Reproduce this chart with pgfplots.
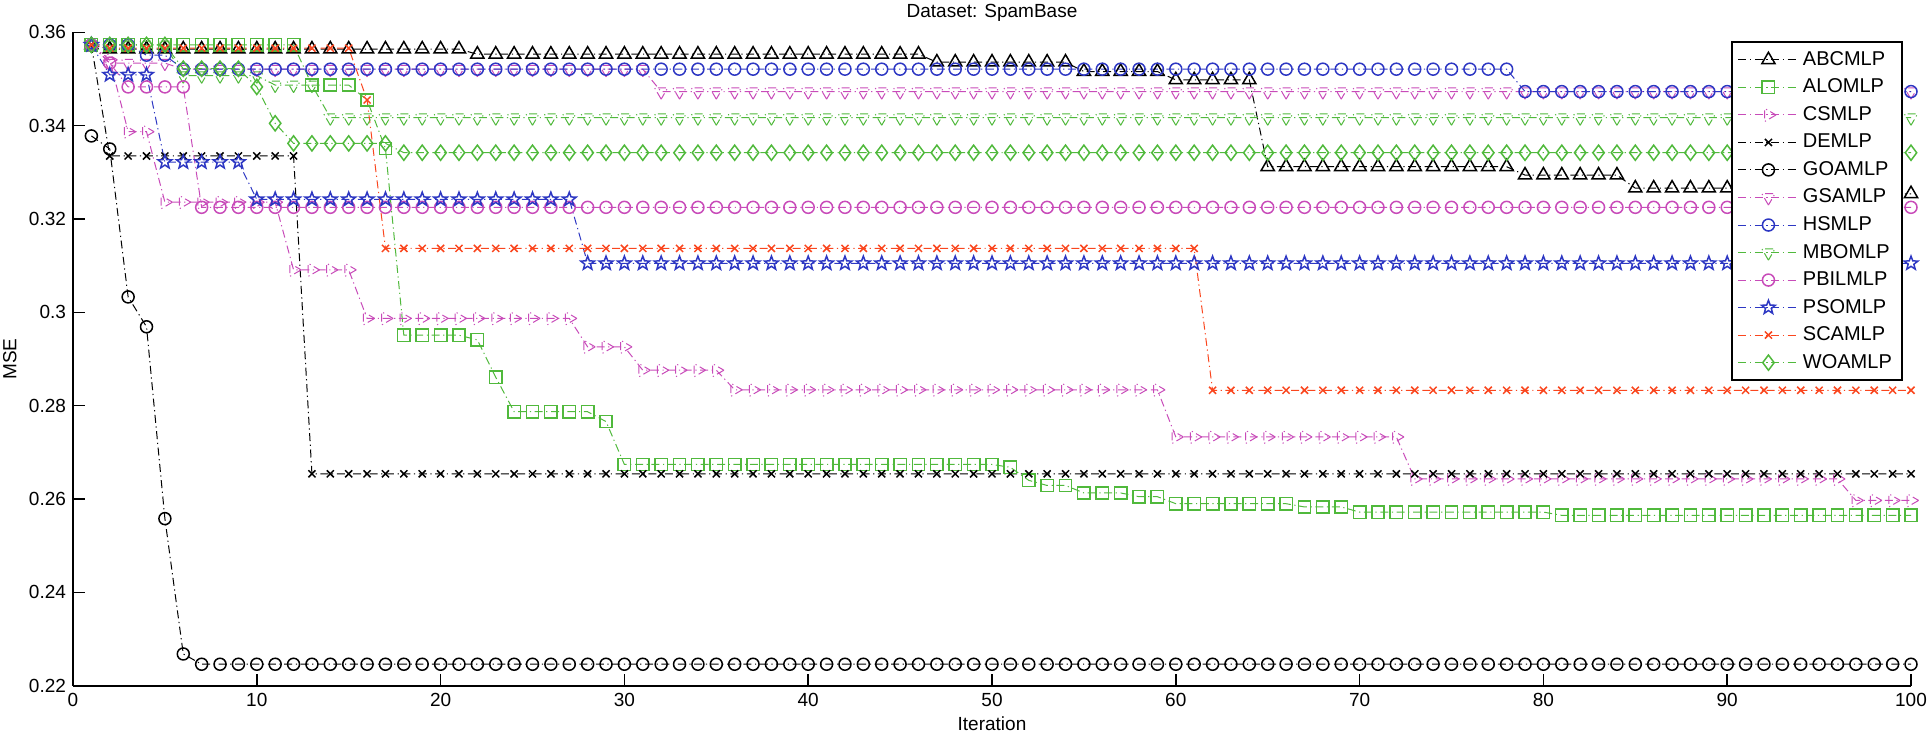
\documentclass[border=0pt]{standalone}
\usepackage{fontspec}
\setmainfont{Liberation Sans}
\usepackage{pgfplots}
\usepackage{pgfplotstable}
\pgfplotsset{compat=1.18}

\definecolor{cgreen}{RGB}{80,185,60}
\definecolor{cmag}{RGB}{200,75,185}
\definecolor{cblue}{RGB}{45,55,195}
\definecolor{cred}{RGB}{250,70,30}

% outline five-pointed star, as MATLAB's pentagram
\pgfdeclareplotmark{pentagram}{%
  \pgfpathmoveto{\pgfqpointpolar{90}{\pgfplotmarksize}}%
  \pgfpathlineto{\pgfqpointpolar{126}{0.42\pgfplotmarksize}}%
  \pgfpathlineto{\pgfqpointpolar{162}{\pgfplotmarksize}}%
  \pgfpathlineto{\pgfqpointpolar{198}{0.42\pgfplotmarksize}}%
  \pgfpathlineto{\pgfqpointpolar{234}{\pgfplotmarksize}}%
  \pgfpathlineto{\pgfqpointpolar{270}{0.42\pgfplotmarksize}}%
  \pgfpathlineto{\pgfqpointpolar{306}{\pgfplotmarksize}}%
  \pgfpathlineto{\pgfqpointpolar{342}{0.42\pgfplotmarksize}}%
  \pgfpathlineto{\pgfqpointpolar{18}{\pgfplotmarksize}}%
  \pgfpathlineto{\pgfqpointpolar{54}{0.42\pgfplotmarksize}}%
  \pgfpathclose\pgfusepathqstroke}

% it abc alo cs de goa gsa hs mbo pbil pso sca woa
\pgfplotstableread{
it abc alo cs de goa gsa hs mbo pbil pso sca woa
1 .3573 .3573 .3573 .3573 .3378 .3573 .3573 .3573 .3573 .3573 .3573 .3573
2 .3564 .3573 .3541 .3335 .3350 .3534 .3573 .3573 .3534 .3509 .3566 .3573
3 .3564 .3573 .3387 .3335 .3033 .3534 .3573 .3573 .3483 .3509 .3566 .3573
4 .3564 .3573 .3387 .3335 .2969 .3534 .3551 .3573 .3483 .3509 .3566 .3573
5 .3564 .3573 .3236 .3335 .2558 .3534 .3551 .3573 .3483 .3322 .3566 .3573
6 .3564 .3573 .3236 .3335 .2268 .3521 .3521 .3507 .3483 .3322 .3566 .3522
7 .3564 .3573 .3236 .3335 .2246 .3521 .3521 .3507 .3225 .3322 .3566 .3522
8 .3564 .3573 .3236 .3335 .2246 .3521 .3521 .3507 .3225 .3322 .3566 .3522
9 .3564 .3573 .3236 .3335 .2246 .3521 .3521 .3507 .3225 .3322 .3566 .3522
10 .3564 .3573 .3236 .3335 .2246 .3521 .3521 .3507 .3225 .3242 .3566 .3483
11 .3564 .3573 .3236 .3335 .2246 .3521 .3521 .3487 .3225 .3242 .3566 .3405
12 .3564 .3573 .3091 .3335 .2246 .3521 .3521 .3487 .3225 .3242 .3566 .3362
13 .3564 .3487 .3091 .2654 .2246 .3521 .3521 .3487 .3225 .3242 .3566 .3362
14 .3564 .3487 .3091 .2654 .2246 .3521 .3521 .3417 .3225 .3242 .3566 .3362
15 .3564 .3487 .3091 .2654 .2246 .3521 .3521 .3417 .3225 .3242 .3566 .3362
16 .3564 .3455 .2987 .2654 .2246 .3521 .3521 .3417 .3225 .3242 .3455 .3362
17 .3564 .3351 .2987 .2654 .2246 .3521 .3521 .3417 .3225 .3242 .3137 .3362
18 .3564 .2951 .2987 .2654 .2246 .3521 .3521 .3417 .3225 .3242 .3137 .3342
19 .3564 .2951 .2987 .2654 .2246 .3521 .3521 .3417 .3225 .3242 .3137 .3342
20 .3564 .2951 .2987 .2654 .2246 .3521 .3521 .3417 .3225 .3242 .3137 .3342
21 .3564 .2951 .2987 .2654 .2246 .3521 .3521 .3417 .3225 .3242 .3137 .3342
22 .3553 .2941 .2987 .2654 .2246 .3521 .3521 .3417 .3225 .3242 .3137 .3342
23 .3553 .2861 .2987 .2654 .2246 .3521 .3521 .3417 .3225 .3242 .3137 .3342
24 .3553 .2787 .2987 .2654 .2246 .3521 .3521 .3417 .3225 .3242 .3137 .3342
25 .3553 .2787 .2987 .2654 .2246 .3521 .3521 .3417 .3225 .3242 .3137 .3342
26 .3553 .2787 .2987 .2654 .2246 .3521 .3521 .3417 .3225 .3242 .3137 .3342
27 .3553 .2787 .2987 .2654 .2246 .3521 .3521 .3417 .3225 .3242 .3137 .3342
28 .3553 .2787 .2926 .2654 .2246 .3521 .3521 .3417 .3225 .3105 .3137 .3342
29 .3553 .2766 .2926 .2654 .2246 .3521 .3521 .3417 .3225 .3105 .3137 .3342
30 .3553 .2674 .2926 .2654 .2246 .3521 .3521 .3417 .3225 .3105 .3137 .3342
31 .3553 .2674 .2876 .2654 .2246 .3521 .3521 .3417 .3225 .3105 .3137 .3342
32 .3553 .2674 .2876 .2654 .2246 .3473 .3521 .3417 .3225 .3105 .3137 .3342
33 .3553 .2674 .2876 .2654 .2246 .3473 .3521 .3417 .3225 .3105 .3137 .3342
34 .3553 .2674 .2876 .2654 .2246 .3473 .3521 .3417 .3225 .3105 .3137 .3342
35 .3553 .2674 .2876 .2654 .2246 .3473 .3521 .3417 .3225 .3105 .3137 .3342
36 .3553 .2674 .2834 .2654 .2246 .3473 .3521 .3417 .3225 .3105 .3137 .3342
37 .3553 .2674 .2834 .2654 .2246 .3473 .3521 .3417 .3225 .3105 .3137 .3342
38 .3553 .2674 .2834 .2654 .2246 .3473 .3521 .3417 .3225 .3105 .3137 .3342
39 .3553 .2674 .2834 .2654 .2246 .3473 .3521 .3417 .3225 .3105 .3137 .3342
40 .3553 .2674 .2834 .2654 .2246 .3473 .3521 .3417 .3225 .3105 .3137 .3342
41 .3553 .2674 .2834 .2654 .2246 .3473 .3521 .3417 .3225 .3105 .3137 .3342
42 .3553 .2674 .2834 .2654 .2246 .3473 .3521 .3417 .3225 .3105 .3137 .3342
43 .3553 .2674 .2834 .2654 .2246 .3473 .3521 .3417 .3225 .3105 .3137 .3342
44 .3553 .2674 .2834 .2654 .2246 .3473 .3521 .3417 .3225 .3105 .3137 .3342
45 .3553 .2674 .2834 .2654 .2246 .3473 .3521 .3417 .3225 .3105 .3137 .3342
46 .3553 .2674 .2834 .2654 .2246 .3473 .3521 .3417 .3225 .3105 .3137 .3342
47 .3536 .2674 .2834 .2654 .2246 .3473 .3521 .3417 .3225 .3105 .3137 .3342
48 .3536 .2674 .2834 .2654 .2246 .3473 .3521 .3417 .3225 .3105 .3137 .3342
49 .3536 .2674 .2834 .2654 .2246 .3473 .3521 .3417 .3225 .3105 .3137 .3342
50 .3536 .2674 .2834 .2654 .2246 .3473 .3521 .3417 .3225 .3105 .3137 .3342
51 .3536 .2668 .2834 .2654 .2246 .3473 .3521 .3417 .3225 .3105 .3137 .3342
52 .3536 .2640 .2834 .2654 .2246 .3473 .3521 .3417 .3225 .3105 .3137 .3342
53 .3536 .2629 .2834 .2654 .2246 .3473 .3521 .3417 .3225 .3105 .3137 .3342
54 .3536 .2629 .2834 .2654 .2246 .3473 .3521 .3417 .3225 .3105 .3137 .3342
55 .3516 .2613 .2834 .2654 .2246 .3473 .3521 .3417 .3225 .3105 .3137 .3342
56 .3516 .2613 .2834 .2654 .2246 .3473 .3521 .3417 .3225 .3105 .3137 .3342
57 .3516 .2613 .2834 .2654 .2246 .3473 .3521 .3417 .3225 .3105 .3137 .3342
58 .3516 .2605 .2834 .2654 .2246 .3473 .3521 .3417 .3225 .3105 .3137 .3342
59 .3516 .2605 .2834 .2654 .2246 .3473 .3521 .3417 .3225 .3105 .3137 .3342
60 .3498 .2590 .2733 .2654 .2246 .3473 .3521 .3417 .3225 .3105 .3137 .3342
61 .3498 .2590 .2733 .2654 .2246 .3473 .3521 .3417 .3225 .3105 .3137 .3342
62 .3498 .2590 .2733 .2654 .2246 .3473 .3521 .3417 .3225 .3105 .2833 .3342
63 .3498 .2590 .2733 .2654 .2246 .3473 .3521 .3417 .3225 .3105 .2833 .3342
64 .3498 .2590 .2733 .2654 .2246 .3473 .3521 .3417 .3225 .3105 .2833 .3342
65 .3312 .2590 .2733 .2654 .2246 .3473 .3521 .3417 .3225 .3105 .2833 .3342
66 .3312 .2590 .2733 .2654 .2246 .3473 .3521 .3417 .3225 .3105 .2833 .3342
67 .3312 .2583 .2733 .2654 .2246 .3473 .3521 .3417 .3225 .3105 .2833 .3342
68 .3312 .2583 .2733 .2654 .2246 .3473 .3521 .3417 .3225 .3105 .2833 .3342
69 .3312 .2583 .2733 .2654 .2246 .3473 .3521 .3417 .3225 .3105 .2833 .3342
70 .3312 .2572 .2733 .2654 .2246 .3473 .3521 .3417 .3225 .3105 .2833 .3342
71 .3312 .2572 .2733 .2654 .2246 .3473 .3521 .3417 .3225 .3105 .2833 .3342
72 .3312 .2572 .2733 .2654 .2246 .3473 .3521 .3417 .3225 .3105 .2833 .3342
73 .3312 .2572 .2643 .2654 .2246 .3473 .3521 .3417 .3225 .3105 .2833 .3342
74 .3312 .2572 .2643 .2654 .2246 .3473 .3521 .3417 .3225 .3105 .2833 .3342
75 .3312 .2572 .2643 .2654 .2246 .3473 .3521 .3417 .3225 .3105 .2833 .3342
76 .3312 .2572 .2643 .2654 .2246 .3473 .3521 .3417 .3225 .3105 .2833 .3342
77 .3312 .2572 .2643 .2654 .2246 .3473 .3521 .3417 .3225 .3105 .2833 .3342
78 .3312 .2572 .2643 .2654 .2246 .3473 .3521 .3417 .3225 .3105 .2833 .3342
79 .3294 .2572 .2643 .2654 .2246 .3473 .3473 .3417 .3225 .3105 .2833 .3342
80 .3294 .2572 .2643 .2654 .2246 .3473 .3473 .3417 .3225 .3105 .2833 .3342
81 .3294 .2565 .2643 .2654 .2246 .3473 .3473 .3417 .3225 .3105 .2833 .3342
82 .3294 .2565 .2643 .2654 .2246 .3473 .3473 .3417 .3225 .3105 .2833 .3342
83 .3294 .2565 .2643 .2654 .2246 .3473 .3473 .3417 .3225 .3105 .2833 .3342
84 .3294 .2565 .2643 .2654 .2246 .3473 .3473 .3417 .3225 .3105 .2833 .3342
85 .3266 .2565 .2643 .2654 .2246 .3473 .3473 .3417 .3225 .3105 .2833 .3342
86 .3266 .2565 .2643 .2654 .2246 .3473 .3473 .3417 .3225 .3105 .2833 .3342
87 .3266 .2565 .2643 .2654 .2246 .3473 .3473 .3417 .3225 .3105 .2833 .3342
88 .3266 .2565 .2643 .2654 .2246 .3473 .3473 .3417 .3225 .3105 .2833 .3342
89 .3266 .2565 .2643 .2654 .2246 .3473 .3473 .3417 .3225 .3105 .2833 .3342
90 .3266 .2565 .2643 .2654 .2246 .3473 .3473 .3417 .3225 .3105 .2833 .3342
91 .3266 .2565 .2643 .2654 .2246 .3473 .3473 .3417 .3225 .3105 .2833 .3342
92 .3266 .2565 .2643 .2654 .2246 .3473 .3473 .3417 .3225 .3105 .2833 .3342
93 .3266 .2565 .2643 .2654 .2246 .3473 .3473 .3417 .3225 .3105 .2833 .3342
94 .3254 .2565 .2643 .2654 .2246 .3473 .3473 .3417 .3225 .3105 .2833 .3342
95 .3254 .2565 .2643 .2654 .2246 .3473 .3473 .3417 .3225 .3105 .2833 .3342
96 .3254 .2565 .2643 .2654 .2246 .3473 .3473 .3417 .3225 .3105 .2833 .3342
97 .3254 .2565 .2597 .2654 .2246 .3473 .3473 .3417 .3225 .3105 .2833 .3342
98 .3254 .2565 .2597 .2654 .2246 .3473 .3473 .3417 .3225 .3105 .2833 .3342
99 .3254 .2565 .2597 .2654 .2246 .3473 .3473 .3417 .3225 .3105 .2833 .3342
100 .3254 .2565 .2597 .2654 .2246 .3473 .3473 .3417 .3225 .3105 .2833 .3342
}\mse

\pgfplotsset{
  conv/.style={line width=0.5pt, dash pattern=on 4pt off 1.8pt on 0.6pt off 1.8pt,
    mark options={solid, line width=0.75pt, fill=none}},
}

\begin{document}
\begin{tikzpicture}
\begin{axis}[
    scale only axis,
    width=919pt, height=326.7pt,
    xmin=0, xmax=100,
    ymin=0.22, ymax=0.36,
    xtick={0,10,...,100},
    ytick={0.22,0.24,0.26,0.28,0.30,0.32,0.34,0.36},
    yticklabels={0.22,0.24,0.26,0.28,0.3,0.32,0.34,0.36},
    axis lines=left,
    axis line style={-, line width=1pt},
    every outer x axis line/.append style={-},
    every outer y axis line/.append style={-},
    tick align=inside,
    major tick length=6pt,
    tick style={black, line width=0.8pt},
    /pgf/number format/assume math mode=true,
    tick label style={font=\fontsize{9.5}{11}\selectfont},
    label style={font=\fontsize{9.5}{11}\selectfont},
    every axis title shift=0pt,
    title style={font=\fontsize{9.5}{11}\selectfont, at={(axis description cs:0.5,1)}, anchor=base, yshift=7.5pt},
    title={Dataset: SpamBase},
    xlabel={Iteration},
    xlabel style={at={(axis description cs:0.5,0)}, anchor=base, yshift=-22.5pt},
    ylabel={MSE},
    ylabel style={at={(axis description cs:-0.0343,0.5)}, anchor=center},
    legend style={at={(axis description cs:0.9955,0.986)}, anchor=north east,
      draw=black, line width=0.9pt, fill=white,
      font=\fontsize{10}{12}\selectfont, row sep=1.3pt,
      inner xsep=3pt, inner ysep=2.5pt},
    legend cell align=left,
    legend image code/.code={\draw[mark repeat=2, mark phase=2, #1]
      plot coordinates {(0pt,0pt) (15pt,0pt) (30pt,0pt)};},
]
\addplot[conv, black, mark=triangle, mark size=3.8pt] table[x=it, y=abc] {\mse};
\addplot[conv, cgreen, mark=square, mark size=3.1pt] table[x=it, y=alo] {\mse};
\addplot[conv, cmag, mark=triangle, mark size=3.8pt, mark options={rotate=-90}] table[x=it, y=cs] {\mse};
\addplot[conv, black, mark=x, mark size=2.5pt] table[x=it, y=de] {\mse};
\addplot[conv, black, mark=o, mark size=3pt] table[x=it, y=goa] {\mse};
\addplot[conv, cmag, mark=triangle, mark size=3.8pt, mark options={rotate=180}] table[x=it, y=gsa] {\mse};
\addplot[conv, cblue, mark=o, mark size=3pt] table[x=it, y=hs] {\mse};
\addplot[conv, cgreen, mark=triangle, mark size=3.8pt, mark options={rotate=180}] table[x=it, y=mbo] {\mse};
\addplot[conv, cmag, mark=o, mark size=3pt] table[x=it, y=pbil] {\mse};
\addplot[conv, cblue, mark=pentagram, mark size=3.6pt] table[x=it, y=pso] {\mse};
\addplot[conv, cred, mark=x, mark size=2.5pt] table[x=it, y=sca] {\mse};
\addplot[conv, cgreen, mark=diamond, mark size=3.8pt] table[x=it, y=woa] {\mse};
\legend{ABCMLP,ALOMLP,CSMLP,DEMLP,GOAMLP,GSAMLP,HSMLP,MBOMLP,PBILMLP,PSOMLP,SCAMLP,WOAMLP}
\end{axis}
\pgfresetboundingbox
\path[use as bounding box] (-36.5pt,-25.15pt) rectangle (927.5pt,342.85pt);
\end{tikzpicture}
\end{document}
